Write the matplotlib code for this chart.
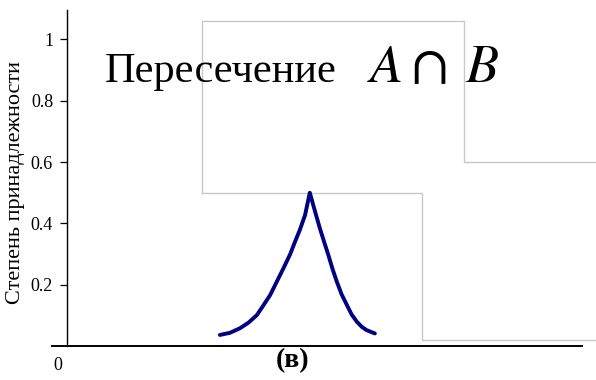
import matplotlib.pyplot as plt

plt.rcParams['font.family'] = ['Liberation Serif', 'DejaVu Serif']
plt.rcParams['mathtext.fontset'] = 'stix'

# степени принадлежности (ось Y) и метки
y_ticks = [0.2, 0.4, 0.6, 0.8, 1.0]
y_labels = ['0.2', '0.4', '0.6', '0.8', '1']

# множество A (верхняя ступенька)
a_x = [2.55, 2.55, 7.50, 7.50, 10.0]
a_y = [0.50, 1.06, 1.06, 0.60, 0.60]

# множество B (нижняя ступенька)
b_x = [2.55, 6.71, 6.71, 10.0]
b_y = [0.50, 0.50, 0.02, 0.02]

# пересечение A и B
cap_x = [2.89, 3.08, 3.27, 3.43, 3.59, 3.71, 3.84, 3.96, 4.09, 4.22,
         4.31, 4.40, 4.50, 4.59,
         4.69, 4.78, 4.86, 4.94, 5.02, 5.10, 5.19, 5.29, 5.38, 5.48,
         5.57, 5.66, 5.76, 5.82]
cap_y = [0.036, 0.043, 0.058, 0.076, 0.101, 0.132, 0.166, 0.208, 0.253, 0.300,
         0.340, 0.378, 0.427, 0.500,
         0.438, 0.384, 0.340, 0.297, 0.251, 0.210, 0.169, 0.134, 0.103, 0.079,
         0.063, 0.052, 0.045, 0.041]

fig = plt.figure(figsize=(5.96, 3.80), dpi=100)
ax = fig.add_axes([67 / 596, 34 / 380, 529 / 596, 336 / 380])
ax.set_xlim(0, 10)
ax.set_ylim(0, 1.096)

ax.plot(a_x, a_y, color='#c8c8c8', lw=1.0, clip_on=False)
ax.plot(b_x, b_y, color='#c8c8c8', lw=1.0, clip_on=False)
ax.plot(cap_x, cap_y, color='#000080', lw=2.8,
        solid_capstyle='round', solid_joinstyle='round')

# ось X рисуем отдельной линией (выходит левее оси Y)
ax.plot([-0.28, 9.74], [0, 0], color='black', lw=1.4, clip_on=False)

for s in ['top', 'right', 'bottom']:
    ax.spines[s].set_visible(False)
ax.spines['left'].set_linewidth(1.0)
ax.set_xticks([])
ax.set_yticks(y_ticks)
ax.set_yticklabels(y_labels)
ax.tick_params(axis='y', direction='out', length=5, width=0.9,
               pad=5, labelsize=13)

ax.text(-0.17, -0.062, '0', ha='center', va='center', fontsize=13)
ax.text(0.72, 0.861, 'Пересечение', fontsize=30.5, va='baseline')
ax.text(5.67, 0.861, r'$A$', fontsize=39, va='baseline')
ax.text(6.83, 0.861, r'$\cap$', fontsize=42, va='baseline', ha='center')
ax.text(7.52, 0.861, r'$B$', fontsize=39, va='baseline')
ax.text(4.27, -0.068, '(в)', fontsize=20, fontweight='bold',
        ha='center', va='baseline')

fig.text(16 / 596, 1 - 182 / 380, 'Степень принадлежности', rotation=90,
         ha='center', va='center', fontsize=16)

fig.savefig('out.png', dpi=100)
